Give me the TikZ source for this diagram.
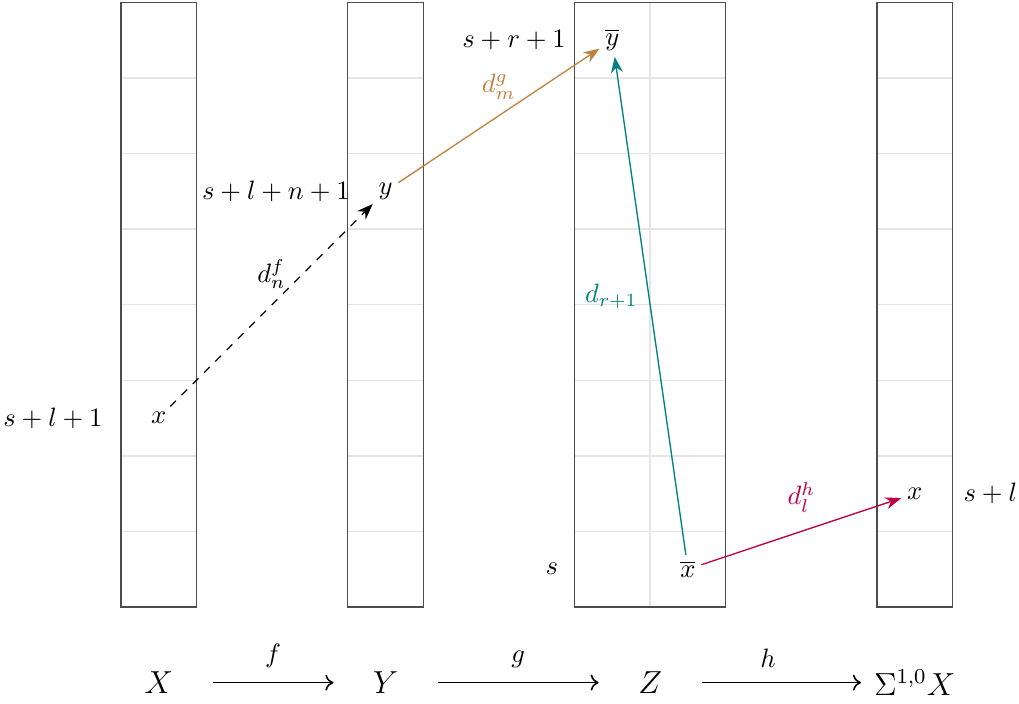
\documentclass[tikz,border=0pt]{standalone}
\usepackage{amsmath,amssymb}
\usepackage{tikz}
\usetikzlibrary{positioning,arrows.meta}
\usepackage{xcolor}

\begin{document}
\begin{tikzpicture}[
  box/.style={draw=black!70,line width=0.5pt},
  gridline/.style={draw=black!10,line width=0.5pt},
  elt/.style={inner sep=2pt},
  diff/.style={-{Stealth[length=6pt,width=4.5pt]},line width=0.5pt},
  mapto/.style={-{To[length=3pt,width=6pt]},line width=0.6pt,shorten <=0.4cm}
]
  \useasboundingbox (-1.6,-1.28) rectangle (11.88,8.03);

  % the columns, one cell per row
  \foreach \c in {0,3,10} {
    \foreach \r in {1,...,7}
      \draw[gridline] (\c,\r) -- ++(1,0);
    \draw[box] (\c,0) rectangle ++(1,8);
  }
  \foreach \r in {1,...,7}
    \draw[gridline] (6,\r) -- (8,\r);
  \draw[gridline] (7,0) -- (7,8);
  \draw[box] (6,0) rectangle (8,8);

  % elements
  \node[elt] (x)    at (0.5,2.5)  {$x$};
  \node[elt] (y)    at (3.5,5.5)  {$y$};
  \node[elt] (ybar) at (6.5,7.5)  {$\overline{y}$};
  \node[elt] (xbar) at (7.5,0.5)  {$\overline{x}$};
  \node[elt] (xs)   at (10.5,1.5) {$x$};

  % degrees
  \node (degx)    at (-0.9,2.5) {$s+l+1$};
  \node (degy)    at (2.05,5.5) {$s+l+n+1$};
  \node (degybar) at (5.2,7.5)  {$s+r+1$};
  \node (degxbar) at (5.7,0.5)  {$s$};
  \node (degxs)   at (11.5,1.5) {$s+l$};

  % differentials
  \draw[diff,dashed] (x) -- node[above,inner sep=6pt] {$d_n^f$} (y);
  \draw[diff,brown]  (y) -- node[above,inner sep=6pt] {$d_m^g$} (ybar);
  \draw[diff,teal]   (xbar) -- node[left,inner sep=4pt,pos=0.52] {$d_{r+1}$} (ybar);
  \draw[diff,purple] (xbar) -- node[above,inner sep=7pt] {$d_l^h$} (xs);

  % the cofibre sequence
  \node (X) at (0.5,-1)  {\large $X$};
  \node (Y) at (3.5,-1)  {\large $Y$};
  \node (Z) at (7,-1)    {\large $Z$};
  \node (S) at (10.5,-1) {\large $\Sigma^{1,0}X$};
  \draw[mapto,shorten >=0.4cm] (X) -- node[above=2pt] {$f$} (Y);
  \draw[mapto,shorten >=0.4cm] (Y) -- node[above=2pt] {$g$} (Z);
  \draw[mapto,shorten >=0.05cm] (Z) -- node[above=2pt] {$h$} (S);
\end{tikzpicture}
\end{document}
